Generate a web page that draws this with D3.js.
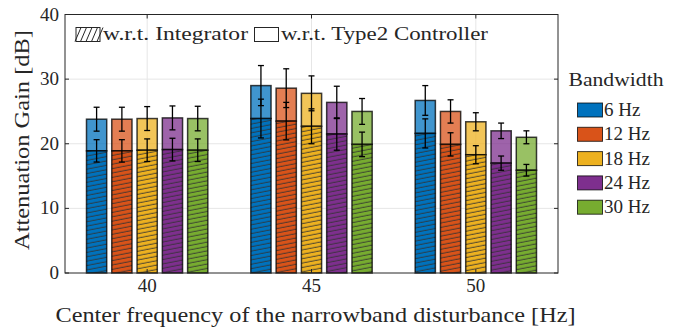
<!DOCTYPE html>
<html>
<head>
<meta charset="utf-8">
<script src="https://d3js.org/d3.v7.min.js"></script>
<style>
  body { margin: 0; background: #fff; }
  text { font-family: 'Liberation Serif', serif; fill: #262626; }
</style>
</head>
<body>
<script>
// center frequencies (groups) and bandwidths (series)
var centers = ["40", "45", "50"];
var bandwidths = ["6 Hz", "12 Hz", "18 Hz", "24 Hz", "30 Hz"];
var colors = ["#0072BD", "#D95319", "#EDB120", "#7E2F8E", "#77AC30"];

// attenuation w.r.t. integrator (hatched part), rows = center freq
var integ = [
  [18.9, 18.9, 19.0, 19.1, 19.0],
  [23.9, 23.5, 22.7, 21.5, 19.9],
  [21.6, 19.9, 18.3, 17.0, 15.9]
];
var integErr = [
  [1.73, 1.73, 1.75, 1.75, 1.75],
  [3.0, 2.9, 2.7, 2.5, 1.9],
  [2.25, 1.8, 1.4, 1.1, 0.9]
];
// attenuation w.r.t. type2 controller (full bar)
var type2 = [
  [23.8, 23.8, 23.9, 24.0, 23.9],
  [29.0, 28.6, 27.8, 26.4, 25.0],
  [26.7, 25.0, 23.4, 22.0, 21.0]
];
var type2Err = [
  [1.85, 1.85, 1.85, 1.85, 1.9],
  [3.1, 3.0, 2.7, 2.5, 2.0],
  [2.3, 1.8, 1.4, 1.2, 1.0]
];
var yTicks = [0, 10, 20, 30, 40];

var W = 683, H = 329;
var pL = 65, pR = 558, pT = 14.5, pB = 273;

var svg = d3.select("body").append("svg")
  .attr("width", W).attr("height", H);

var defs = svg.append("defs");
var pat = defs.append("pattern")
  .attr("id", "hatch")
  .attr("patternUnits", "userSpaceOnUse")
  .attr("width", 20).attr("height", 4.3)
  .attr("patternTransform", "rotate(-11)");
pat.append("line")
  .attr("x1", 0).attr("x2", 20).attr("y1", 2).attr("y2", 2)
  .attr("stroke", "#333").attr("stroke-width", 1).attr("stroke-opacity", 0.85);

var x = d3.scaleBand().domain(centers).range([pL, pR]);
var groupW = x.bandwidth() * Math.min(0.8, 5 / 6.5);
var y = d3.scaleLinear().domain([0, 40]).range([pB, pT]);

// grid
svg.append("g").selectAll("line").data(yTicks.slice(1, 4)).enter().append("line")
  .attr("x1", pL).attr("x2", pR)
  .attr("y1", d => y(d)).attr("y2", d => y(d))
  .attr("stroke", "#e6e6e6").attr("stroke-width", 1);
svg.append("g").selectAll("line").data(centers).enter().append("line")
  .attr("x1", d => x(d) + x.bandwidth() / 2).attr("x2", d => x(d) + x.bandwidth() / 2)
  .attr("y1", pT).attr("y2", pB)
  .attr("stroke", "#e6e6e6").attr("stroke-width", 1);

// bars
var pitch = groupW / 5, barW = pitch * 0.8;
function bx(g, i) {
  return x(centers[g]) + x.bandwidth() / 2 - groupW / 2 + pitch * i + (pitch - barW) / 2;
}
centers.forEach(function (c, g) {
  bandwidths.forEach(function (b, i) {
    var x0 = bx(g, i);
    // upper part (type2)
    svg.append("rect")
      .attr("x", x0).attr("width", barW)
      .attr("y", y(type2[g][i])).attr("height", y(integ[g][i]) - y(type2[g][i]))
      .attr("fill", colors[i]).attr("fill-opacity", 0.75)
      .attr("stroke", "#000").attr("stroke-opacity", 0.75).attr("stroke-width", 1.5);
    // lower part (integrator) with hatch
    svg.append("rect")
      .attr("x", x0).attr("width", barW)
      .attr("y", y(integ[g][i])).attr("height", pB - y(integ[g][i]))
      .attr("fill", colors[i]);
    svg.append("rect")
      .attr("x", x0).attr("width", barW)
      .attr("y", y(integ[g][i])).attr("height", pB - y(integ[g][i]))
      .attr("fill", "url(#hatch)")
      .attr("stroke", "#000").attr("stroke-opacity", 0.75).attr("stroke-width", 1.5);
  });
});

// error bars
function errbar(cx, v, e) {
  var gE = svg.append("g").attr("stroke", "#000").attr("stroke-width", 1.3);
  gE.append("line").attr("x1", cx).attr("x2", cx).attr("y1", y(v + e)).attr("y2", y(v - e));
  gE.append("line").attr("x1", cx - 3).attr("x2", cx + 3).attr("y1", y(v + e)).attr("y2", y(v + e));
  gE.append("line").attr("x1", cx - 3).attr("x2", cx + 3).attr("y1", y(v - e)).attr("y2", y(v - e));
}
centers.forEach(function (c, g) {
  bandwidths.forEach(function (b, i) {
    var cx = bx(g, i) + barW / 2;
    errbar(cx, type2[g][i], type2Err[g][i]);
    errbar(cx, integ[g][i], integErr[g][i]);
  });
});

// axes frame
svg.append("rect").attr("x", pL).attr("y", pT)
  .attr("width", pR - pL).attr("height", pB - pT)
  .attr("fill", "none").attr("stroke", "#262626").attr("stroke-width", 1);

// y ticks
var yAx = svg.append("g");
yTicks.forEach(function (t) {
  yAx.append("line").attr("x1", pL).attr("x2", pL + 4).attr("y1", y(t)).attr("y2", y(t)).attr("stroke", "#262626");
  yAx.append("line").attr("x1", pR - 4).attr("x2", pR).attr("y1", y(t)).attr("y2", y(t)).attr("stroke", "#262626");
  yAx.append("text").attr("x", pL - 6).attr("y", y(t) + 6)
    .attr("text-anchor", "end").attr("font-size", 19).text(t);
});
// x ticks
centers.forEach(function (c) {
  var cx = x(c) + x.bandwidth() / 2;
  svg.append("line").attr("x1", cx).attr("x2", cx).attr("y1", pB).attr("y2", pB - 4).attr("stroke", "#262626");
  svg.append("line").attr("x1", cx).attr("x2", cx).attr("y1", pT).attr("y2", pT + 4).attr("stroke", "#262626");
  svg.append("text").attr("x", cx).attr("y", 292)
    .attr("text-anchor", "middle").attr("font-size", 19).text(c);
});

// axis labels
svg.append("text").attr("x", (pL + pR) / 2 + 4).attr("y", 322)
  .attr("text-anchor", "middle").attr("font-size", 21)
  .attr("textLength", 520).attr("lengthAdjust", "spacingAndGlyphs")
  .text("Center frequency of the narrowband disturbance [Hz]");
svg.append("text").attr("transform", "translate(29,140) rotate(-90)")
  .attr("text-anchor", "middle").attr("font-size", 21)
  .attr("textLength", 220).attr("lengthAdjust", "spacingAndGlyphs")
  .text("Attenuation Gain [dB]");

// top legend
var lg = svg.append("g");
lg.append("rect").attr("x", 76).attr("y", 27.5).attr("width", 24).attr("height", 14)
  .attr("fill", "#fff").attr("stroke", "#262626");
[0, 1, 2, 3, 4].forEach(function (k) {
  var x1 = 76 + k * 5.5;
  lg.append("line").attr("x1", x1 - 1).attr("y1", 41.5).attr("x2", x1 + 5).attr("y2", 27.5)
    .attr("stroke", "#262626").attr("stroke-width", 1);
});
lg.append("text").attr("x", 103).attr("y", 40).attr("font-size", 19)
  .attr("textLength", 145).attr("lengthAdjust", "spacingAndGlyphs").text("w.r.t. Integrator");
lg.append("rect").attr("x", 254.5).attr("y", 27.5).attr("width", 24).attr("height", 14)
  .attr("fill", "#fff").attr("stroke", "#262626");
lg.append("text").attr("x", 281).attr("y", 40).attr("font-size", 19)
  .attr("textLength", 207).attr("lengthAdjust", "spacingAndGlyphs").text("w.r.t. Type2 Controller");

// right legend
var rl = svg.append("g");
rl.append("text").attr("x", 616).attr("y", 86).attr("text-anchor", "middle")
  .attr("font-size", 19).attr("textLength", 95).attr("lengthAdjust", "spacingAndGlyphs").text("Bandwidth");
bandwidths.forEach(function (b, i) {
  var yy = 103 + i * 24.3;
  rl.append("rect").attr("x", 577.5).attr("y", yy).attr("width", 25).attr("height", 14)
    .attr("fill", colors[i]).attr("stroke", "#000").attr("stroke-opacity", 0.75);
  rl.append("text").attr("x", 604).attr("y", yy + 13).attr("font-size", 19).text(b);
});
</script>
</body>
</html>
